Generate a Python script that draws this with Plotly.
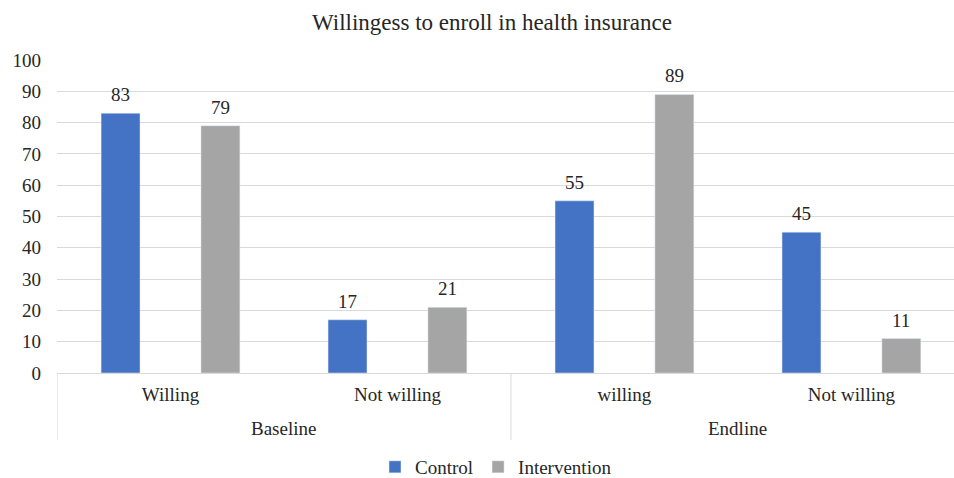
import plotly.graph_objects as go

groups = ["Baseline", "Endline"]
subcats = ["Willing", "Not willing", "willing", "Not willing"]
control = [83, 17, 55, 45]
intervention = [79, 21, 89, 11]
yticks = [0, 10, 20, 30, 40, 50, 60, 70, 80, 90, 100]

FONT = "Liberation Serif"
TXT = "#262626"
BARGAP = 0.12
xs = list(range(len(subcats)))

fig = go.Figure()
fig.add_bar(x=xs, y=control, name="Control", marker_color="#4472C4")
fig.add_bar(x=xs, y=intervention, name="Intervention", marker_color="#A5A5A5")

annotations = []
off = (1 - BARGAP) / 4
for series, sgn in [(control, -1), (intervention, 1)]:
    for i, v in zip(xs, series):
        annotations.append(dict(x=i + sgn * off, y=v, xref="x", yref="y", text=str(v),
                                 showarrow=False, yanchor="bottom", yshift=6,
                                 font=dict(family=FONT, size=19, color=TXT)))
for i, g in enumerate(groups):
    annotations.append(dict(x=2 * i + 0.5, y=-0.176, xref="x", yref="paper", text=g,
                            showarrow=False, font=dict(family=FONT, size=19, color=TXT),
                            yanchor="middle"))
shapes = []
for b in [-0.5, 1.5, 3.5]:
    shapes.append(dict(type="line", xref="x", yref="paper", x0=b, x1=b, y0=0, y1=-0.214,
                       line=dict(color="#D9D9D9", width=1)))

fig.update_layout(
    width=954, height=478,
    margin=dict(l=57, r=0, t=60, b=105, autoexpand=False),
    paper_bgcolor="white", plot_bgcolor="white",
    barmode="group", bargap=BARGAP, bargroupgap=0.61,
    title=dict(text="Willingess to enroll in health insurance", x=492 / 954, xref="container",
               xanchor="center", y=0.955, yanchor="middle",
               font=dict(family=FONT, size=23, color=TXT)),
    font=dict(family=FONT, size=19, color=TXT),
    xaxis=dict(range=[-0.5, 3.452], tickvals=xs, ticktext=subcats, showgrid=False,
               showline=True, linecolor="#D9D9D9", ticks="", zeroline=False,
               ticklabelstandoff=4,
               tickfont=dict(family=FONT, size=19, color=TXT)),
    yaxis=dict(range=[0, 100], tickvals=yticks, showgrid=True, gridcolor="#D9D9D9",
               zeroline=False, showline=False, ticks="", ticklabelstandoff=15,
               tickfont=dict(family=FONT, size=19, color=TXT)),
    legend=dict(orientation="h", x=496 / 954, xref="container", xanchor="center",
                y=0.023, yanchor="middle", yref="container",
                font=dict(family=FONT, size=19, color=TXT), itemwidth=30),
    annotations=annotations, shapes=shapes,
)
fig.write_html("out.html")
